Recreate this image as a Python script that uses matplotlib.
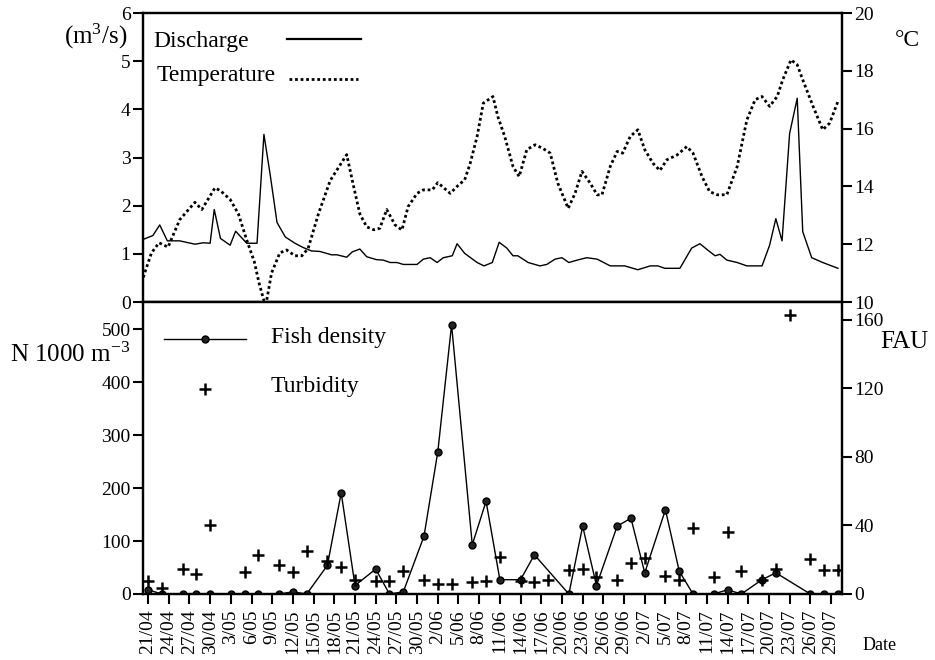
import numpy as np
import matplotlib
matplotlib.use('Agg')
import matplotlib.pyplot as plt

plt.rcParams['font.family'] = ['Liberation Serif', 'DejaVu Serif']
plt.rcParams['mathtext.fontset'] = 'custom'
plt.rcParams['mathtext.rm'] = 'Liberation Serif'
plt.rcParams['mathtext.it'] = 'Liberation Serif:italic'

# days counted from 21/04
q_day = [-0.7, 0.7, 1.7, 2.8, 4.6, 6.8, 8.0, 9.0, 9.6, 10.5, 11.9, 12.7, 14.3, 15.8, 16.8, 17.7,
         18.7, 19.9, 21.3, 22.5, 23.7, 24.9, 26.6, 27.4, 28.8, 29.6, 30.7, 31.7, 33.1, 34.1, 35.1,
         36.1, 37.0, 39.0, 39.9, 40.9, 41.9, 42.8, 44.1, 44.8, 45.9, 47.7, 48.7, 49.9, 50.9, 52.0,
         52.9, 53.6, 55.1, 56.8, 57.8, 59.0, 60.0, 61.0, 62.2, 63.6, 65.1, 67.0, 69.1, 71.0, 72.8,
         73.9, 74.9, 77.1, 78.8, 80.0, 81.2, 82.2, 82.9, 83.9, 85.4, 86.8, 89.0, 90.1, 91.0, 91.9,
         93.0, 94.1, 94.9, 96.2, 97.8, 100.0]
discharge = [1.30, 1.38, 1.60, 1.27, 1.27, 1.20, 1.23, 1.22, 1.92, 1.32, 1.18, 1.47, 1.22, 1.22,
             3.48, 2.65, 1.65, 1.35, 1.22, 1.13, 1.06, 1.05, 0.98, 0.98, 0.93, 1.04, 1.10, 0.94,
             0.88, 0.87, 0.82, 0.82, 0.78, 0.78, 0.89, 0.92, 0.82, 0.92, 0.96, 1.21, 1.01, 0.82,
             0.75, 0.82, 1.24, 1.12, 0.96, 0.96, 0.82, 0.75, 0.78, 0.89, 0.92, 0.82, 0.87, 0.92,
             0.89, 0.75, 0.75, 0.67, 0.75, 0.75, 0.70, 0.70, 1.12, 1.21, 1.07, 0.96, 0.99, 0.87,
             0.82, 0.75, 0.75, 1.18, 1.73, 1.27, 3.50, 4.23, 1.46, 0.92, 0.82, 0.70]

t_day = [-0.7, 0.5, 1.6, 2.9, 4.6, 6.8, 7.8, 9.7, 10.5, 11.9, 13.1, 14.3, 15.4, 16.1, 16.8, 17.2,
         17.9, 19.1, 20.1, 21.3, 22.3, 23.2, 24.7, 26.4, 28.8, 29.8, 30.7, 31.7, 32.7, 33.6, 34.6,
         35.8, 36.8, 37.7, 39.0, 39.9, 41.2, 42.0, 43.8, 44.8, 45.9, 46.7, 47.7, 48.6, 50.0, 50.7,
         51.7, 52.9, 53.8, 54.9, 56.1, 57.2, 58.3, 59.4, 60.9, 61.9, 62.9, 64.1, 65.1, 65.8, 67.0,
         68.0, 68.8, 69.9, 71.0, 72.0, 73.2, 74.2, 75.2, 76.7, 78.1, 79.0, 80.3, 81.4, 82.5, 83.9,
         85.4, 86.8, 88.0, 89.0, 90.1, 91.2, 92.0, 93.2, 94.1, 94.9, 96.4, 97.8, 98.8, 100.0]
temperature = [10.85, 11.7, 12.05, 11.9, 12.85, 13.45, 13.2, 13.95, 13.85, 13.55, 13.05, 12.15,
               11.4, 10.65, 10.05, 10.05, 11.0, 11.7, 11.8, 11.6, 11.6, 11.85, 13.05, 14.2, 15.1,
               14.0, 13.05, 12.6, 12.5, 12.55, 13.2, 12.67, 12.49, 13.3, 13.76, 13.88, 13.88,
               14.13, 13.76, 14.0, 14.23, 14.8, 15.73, 16.88, 17.11, 16.42, 15.73, 14.69, 14.34,
               15.27, 15.44, 15.32, 15.15, 14.11, 13.24, 13.76, 14.52, 14.11, 13.71, 13.71, 14.69,
               15.21, 15.15, 15.73, 15.96, 15.27, 14.8, 14.55, 14.92, 15.09, 15.38, 15.15, 14.34,
               13.82, 13.71, 13.71, 14.69, 16.3, 17.0, 17.11, 16.77, 17.11, 17.69, 18.38, 18.21,
               17.69, 16.77, 15.96, 16.19, 16.94]

fish_day = [0, 2, 5, 7, 9, 12, 14, 16, 19, 21, 23, 26, 28, 30, 33, 35, 37, 40, 42, 44, 47, 49,
            51, 54, 56, 61, 63, 65, 68, 70, 72, 75, 77, 79, 82, 84, 86, 89, 91, 96, 98, 100]
fish = [8, 0, 0, 0, 0, 0, 0, 0, 0, 4, 0, 54, 191, 16, 47, 0, 4, 109, 268, 508, 93, 175, 27, 27,
        74, 0, 128, 16, 128, 143, 40, 159, 43, 0, 0, 8, 0, 27, 40, 0, 0, 0]

turb_day = [0, 2, 5, 7, 9, 14, 16, 19, 21, 23, 26, 28, 30, 33, 35, 37, 40, 42, 44, 47, 49, 51,
            54, 56, 58, 61, 63, 65, 68, 70, 72, 75, 77, 79, 82, 84, 86, 89, 91, 93, 96, 98, 100]
turbidity = [7.4, 3.5, 14.6, 11.7, 40.4, 12.8, 22.7, 16.7, 12.8, 25.3, 19.4, 15.6, 8.4, 7.4, 7.4,
             13.2, 8.4, 5.8, 5.8, 7.0, 7.8, 21.4, 7.4, 7.0, 8.4, 14.2, 14.6, 9.9, 8.4, 18.1, 21.0,
             10.7, 8.4, 38.3, 9.7, 36.0, 13.2, 8.4, 14.6, 163.0, 20.4, 14.2, 14.2]

tick_day = list(range(0, 100, 3))
tick_lab = ['21/04', '24/04', '27/04', '30/04', '3/05', '6/05', '9/05', '12/05', '15/05', '18/05',
            '21/05', '24/05', '27/05', '30/05', '2/06', '5/06', '8/06', '11/06', '14/06', '17/06',
            '20/06', '23/06', '26/06', '29/06', '2/07', '5/07', '8/07', '11/07', '14/07', '17/07',
            '20/07', '23/07', '26/07', '29/07']

fig = plt.figure(figsize=(9.35, 6.6), dpi=100)
ax1 = fig.add_axes([0.153, 0.5424, 0.7476, 0.4379])
ax2 = ax1.twinx()
ax3 = fig.add_axes([0.153, 0.10, 0.7476, 0.4424])
ax4 = ax3.twinx()

xlim = (-0.72, 100.6)
for ax in [ax1, ax2, ax3, ax4]:
    ax.set_xlim(xlim)
    for s in ax.spines.values():
        s.set_linewidth(1.6)
    ax.tick_params(width=1.5, length=7, labelsize=14, pad=2)

# top panel
ax1.plot(q_day, discharge, color='k', lw=1)
ax2.plot(t_day, temperature, color='k', lw=2, ls=(0, (1, 1)))
ax1.set_ylim(0, 6)
ax1.set_yticks(range(0, 7))
ax2.set_ylim(10, 20)
ax2.set_yticks(range(10, 21, 2))
ax1.tick_params(axis='x', bottom=False, labelbottom=False)

ax1.text(0.0143, 0.90, 'Discharge', transform=ax1.transAxes, va='center', fontsize=17)
ax1.plot([0.206, 0.312], [0.91, 0.91], transform=ax1.transAxes, color='k', lw=1.6)
ax1.text(0.020, 0.785, 'Temperature', transform=ax1.transAxes, va='center', fontsize=17)
ax1.plot([0.209, 0.3076], [0.772, 0.772], transform=ax1.transAxes, color='k', lw=2, ls=(0, (1, 1)))

# bottom panel
ax3.plot(fish_day, fish, color='k', lw=1, marker='o', ms=5, mfc='#222222', mec='k', mew=1)
ax4.plot(turb_day, turbidity, 'k+', ms=8, mew=1.8)
ax3.set_ylim(0, 551)
ax3.set_yticks(range(0, 501, 100))
ax4.set_ylim(0, 170.5)
ax4.set_yticks(range(0, 161, 40))
ax3.set_xticks(tick_day)
ax3.set_xticklabels(tick_lab, rotation=90)
ax3.tick_params(axis='x', pad=4)
ax4.tick_params(axis='x', bottom=False, labelbottom=False)

ax3.plot([0.030, 0.147], [0.873, 0.873], transform=ax3.transAxes, color='k', lw=1)
ax3.plot([0.0887], [0.873], transform=ax3.transAxes, marker='o', ms=5, mfc='#222222', mec='k')
ax3.text(0.183, 0.88, 'Fish density', transform=ax3.transAxes, va='center', fontsize=17)
ax3.plot([0.0887], [0.702], transform=ax3.transAxes, marker='+', ms=8, mew=1.8, color='k')
ax3.text(0.183, 0.712, 'Turbidity', transform=ax3.transAxes, va='center', fontsize=17)

# axis titles
fig.text(127 / 935, 1 - 36 / 660, '(m$^3$/s)', ha='right', va='center', fontsize=18)
fig.text(895 / 935, 1 - 40 / 660, '°C', ha='left', va='center', fontsize=17)
fig.text(10 / 935, 1 - 355 / 660, 'N 1000 m$^{-3}$', ha='left', va='center', fontsize=18)
fig.text(880 / 935, 1 - 342 / 660, 'FAU', ha='left', va='center', fontsize=18)
fig.text(863 / 935, 1 - 645 / 660, 'Date', ha='left', va='center', fontsize=13)

fig.savefig('out.png', dpi=100)
